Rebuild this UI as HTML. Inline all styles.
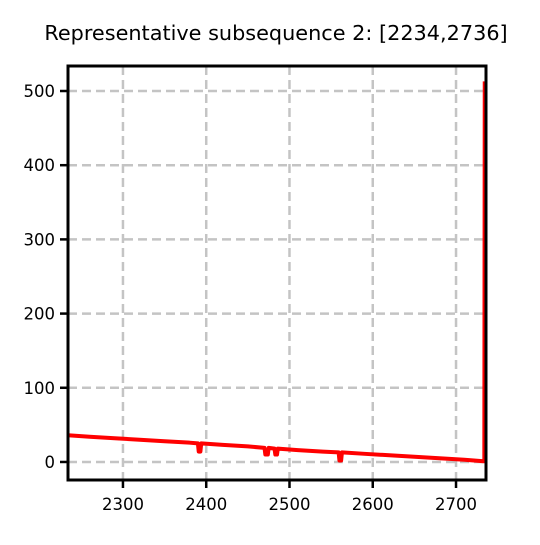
<!DOCTYPE html>
<html><head><meta charset="utf-8"><style>
body{margin:0;background:#fff;}
svg text{font-family:"DejaVu Sans","Liberation Sans",sans-serif;}
</style></head><body>
<svg id="chart" width="540" height="540" xmlns="http://www.w3.org/2000/svg">
<text x="276" y="40" text-anchor="middle" font-size="20.8">Representative subsequence 2: [2234,2736]</text>
<g id="grid"></g><g id="series"></g><g id="axes"></g>
</svg>
<script>
const xTicks=[2300,2400,2500,2600,2700];
const yTicks=[0,100,200,300,400,500];
const seriesX=[2234,2260,2290,2320,2350,2380,2390,2391,2393,2394,2420,2450,2470,2471,2474,2475,2482,2483,2485,2486,2510,2540,2559,2560,2562,2563,2590,2620,2650,2680,2710,2733,2734,2734.5];
const seriesY=[36,34,32,30,28,26,25,14,14,25,23,21,19,10,10,19,18,10,10,18,16,14,13,2,2,13,11,9,7,5,3,1,1,513];
const L=68,R=486,T=66,B=480,x0=2234,x1=2736,y0=-24.3,y1=533.7;
const sx=v=>L+(v-x0)/(x1-x0)*(R-L), sy=v=>B-(v-y0)/(y1-y0)*(B-T);
const NS="http://www.w3.org/2000/svg";
function mk(tag,attrs,parent){const e=document.createElementNS(NS,tag);for(const k in attrs)e.setAttribute(k,attrs[k]);document.getElementById(parent).appendChild(e);return e;}
xTicks.forEach(v=>{
 const g=mk('line',{x1:sx(v),x2:sx(v),y1:T,y2:B,stroke:'#c4c4c4','stroke-width':2.5,'stroke-dasharray':'9,5'},'grid');
 
 
 const t=mk('line',{x1:sx(v),x2:sx(v),y1:B,y2:B+8,stroke:'#000','stroke-width':2.5},'axes');
 
 
 const l=mk('text',{x:sx(v),y:B+30,'text-anchor':'middle','font-size':16.5},'axes');
 l.textContent=v;
 
 
});
yTicks.forEach(v=>{
 const g=mk('line',{x1:L,x2:R,y1:sy(v),y2:sy(v),stroke:'#c4c4c4','stroke-width':2.5,'stroke-dasharray':'9,5'},'grid');
 
 
 const t=mk('line',{x1:L-8,x2:L,y1:sy(v),y2:sy(v),stroke:'#000','stroke-width':2.5},'axes');
 
 
 const l=mk('text',{x:L-13,y:sy(v)+6,'text-anchor':'end','font-size':16.5},'axes');
 l.textContent=v;
 
 
});
const p=mk('polyline',{points:seriesX.map((x,i)=>sx(x)+','+sy(seriesY[i])).join(' '),fill:'none',stroke:'#ff0000','stroke-width':4,'stroke-linejoin':'round'},'series');


const f=mk('rect',{x:L,y:T,width:R-L,height:B-T,fill:'none',stroke:'#000','stroke-width':3},'axes');


</script>
</body></html>
